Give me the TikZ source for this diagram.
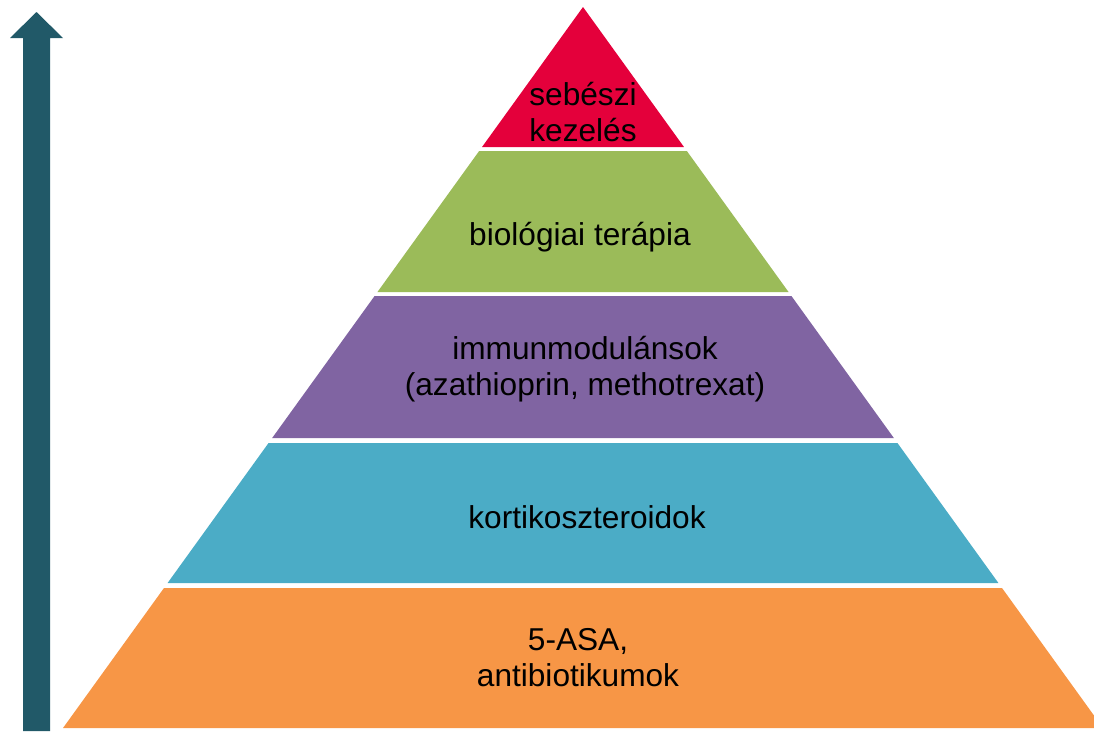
\documentclass[tikz,border=0pt]{standalone}
\usepackage{fontspec}
\setmainfont{Liberation Sans}
\definecolor{arrowteal}{HTML}{215968}
\definecolor{sebred}{HTML}{E4003B}
\definecolor{bioolive}{HTML}{9BBB59}
\definecolor{immpurple}{HTML}{8064A2}
\definecolor{kortcyan}{HTML}{4BACC6}
\definecolor{asaorange}{HTML}{F79646}
\begin{document}
\begin{tikzpicture}[x=0.02cm,y=-0.02cm,
  layertext/.style={align=center,inner sep=0pt,font=\fontsize{18}{20.5}\selectfont}]
\useasboundingbox (0,0) rectangle (1094,731);
% arrow on the left
\fill[arrowteal] (23,731) -- (23,38) -- (10,38) -- (36.5,12) -- (63,38) -- (50,38) -- (50,731) -- cycle;
% layers of the pyramid
\foreach \t/\b/\col in {7/147/sebred,151/292/bioolive,296/438/immpurple,443/583/kortcyan,588/728/asaorange}{
  \pgfmathsetmacro\wt{0.7212*(\t-7)}
  \pgfmathsetmacro\wb{0.7212*(\b-7)}
  \fill[\col] (583-\wt,\t) -- (583+\wt,\t) -- (583+\wb,\b) -- (583-\wb,\b) -- cycle;
}
\node[layertext] (surg) at (583,112) {sebészi\\kezelés};
\node[layertext] (bio) at (580,237) {biológiai terápia};
\node[layertext] (immuno) at (585,369) {immunmodulánsok\\(azathioprin, methotrexat)};
\node[layertext] (kortiko) at (587,517) {kortikoszteroidok};
\node[layertext] (asa) at (578,658) {5-ASA,\\antibiotikumok};
\end{tikzpicture}
\end{document}
